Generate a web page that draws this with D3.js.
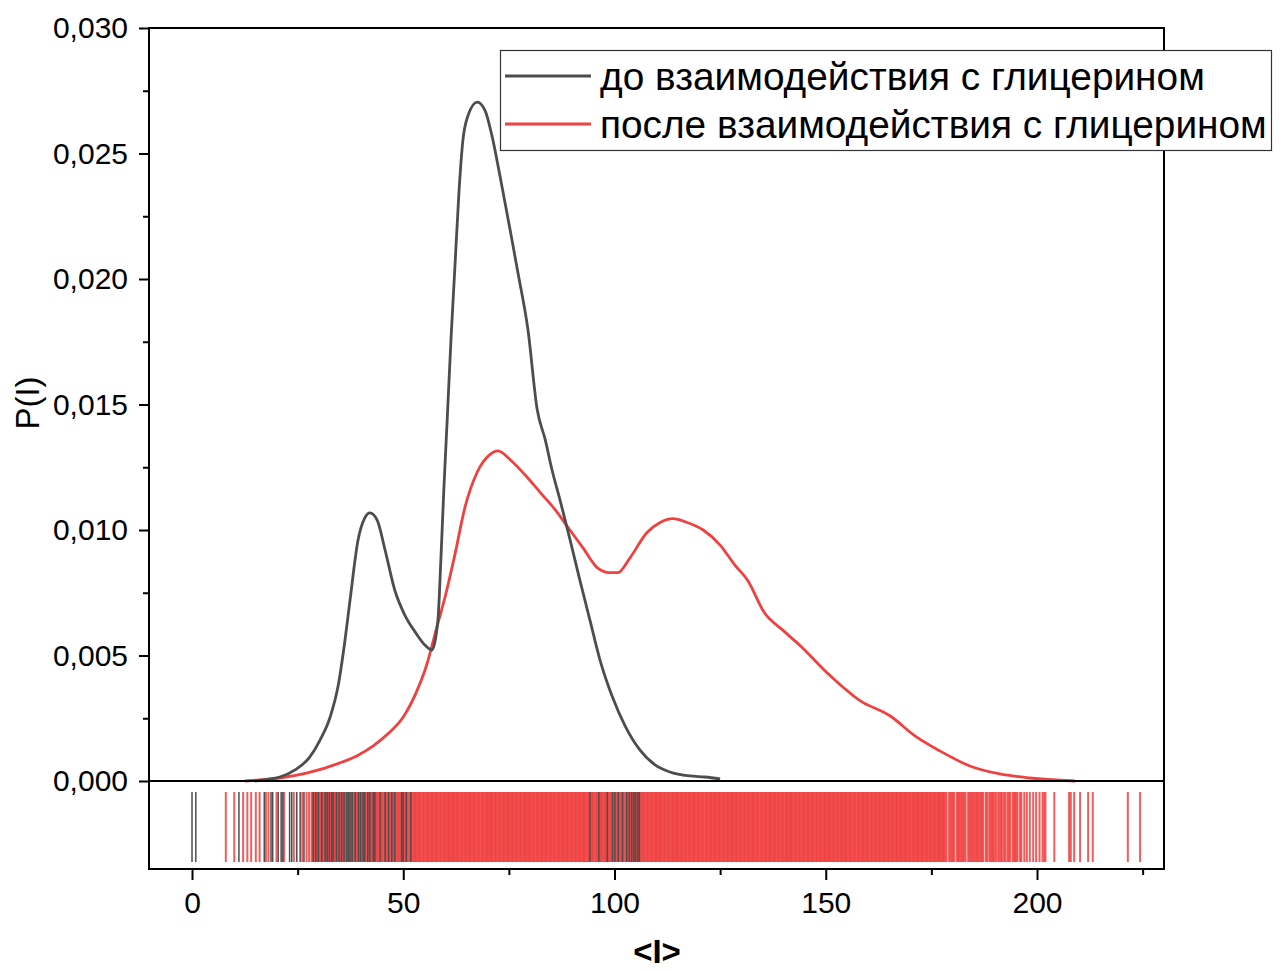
<!DOCTYPE html>
<html><head><meta charset="utf-8">
<script src="https://cdn.jsdelivr.net/npm/d3@7"></script>
<style>body{margin:0;background:#fff}svg{display:block}text{font-family:"Liberation Sans",Arial,sans-serif;fill:#000}</style>
</head><body><svg id="c" width="1285" height="971"></svg>
<script>
// ---- data (P values in units of 1e-3) ----
const seriesNames = ["до взаимодействия с глицерином", "после взаимодействия с глицерином"];
const beforeX = [14.9,18.5,20.8,24.4,27.9,30.3,32.7,34.6,36.2,37.4,39.3,40.9,42.1,43.8,45.7,48.0,50.4,52.8,55.1,56.8,58.2,58.9,59.6,60.4,61.3,62.2,63.2,64.1,65.3,67.5,69.4,71.0,72.9,75.3,77.2,79.5,81.7,83.6,85.2,87.1,89.5,91.8,94.2,96.6,99.4,102.5,106.0,109.6,113.1,117.9,121.4,125.0];
const beforeY = [0,0.08,0.16,0.44,0.96,1.63,2.55,3.8,5.6,7.2,9.6,10.48,10.68,10.4,9.2,7.6,6.6,5.94,5.42,5.22,6.4,8.8,11.6,14.4,17.6,20.4,23.5,25.5,26.5,27.05,26.7,25.7,24.1,21.95,20.2,18.0,14.8,13.6,12.4,11.2,9.6,8.0,6.4,4.8,3.4,2.2,1.24,0.64,0.36,0.2,0.16,0.08];
const afterX = [12.5,16.0,20.8,27.1,35.0,39.0,42.9,46.5,50.0,53.0,55.5,57.9,60.0,62.2,64.6,67.5,70.5,72.4,75.3,78.8,82.4,86.0,89.0,92.5,95.9,98.9,100.8,103.7,107.7,110.8,113.8,117.2,121.0,125.0,128.5,131.5,135.5,139.9,143.9,151.0,158.1,165.2,171.1,177.0,184.1,191.2,198.3,209.0];
const afterY = [0,0.04,0.12,0.31,0.72,1.0,1.4,1.9,2.55,3.5,4.6,6.1,7.4,9.0,10.9,12.3,13.0,13.15,12.8,12.2,11.5,10.8,10.1,9.3,8.5,8.3,8.3,8.9,9.9,10.3,10.45,10.3,10.0,9.4,8.6,8.0,6.7,6.0,5.4,4.2,3.2,2.6,1.8,1.2,0.6,0.28,0.12,0];
const beforeRug = [0,0.9,11.1,17.1,18.7,19.1,20.4,21.1,21.5,23.1,23.6,24.8,25.6,26.5,28.7,29.3,29.9,30.7,31.5,32.0,32.5,33.1,33.4,34.2,34.8,35.4,36.0,36.6,37.0,37.4,37.9,38.6,39.4,39.9,40.5,40.9,41.6,42.1,42.9,43.3,44.5,45.7,46.5,47.3,48.0,49.6,50.0,50.7,51.8,94.2,96.3,98.3,99.5,100.1,100.9,101.9,102.9,103.5,104.1,104.6,105.0,105.5,105.9];
const afterRug = [8.0,10.0,12.1,13.1,14.0,15.1,16.0,17.5,18.1,20.0,21.8,24.1,26.1,27.1,27.7,28.3,28.6,28.8,
29,29.3,29.6,29.8,30,30.3,30.6,30.8,31,31.3,31.6,31.8,32,32.3,32.6,32.8,33,33.3,33.6,33.8,34,34.3,34.6,34.8,35,35.3,35.6,35.8,36,36.3,36.6,36.8,37,37.3,37.6,37.8,38,38.3,38.6,38.8,
39,39.3,39.6,39.8,40,40.3,40.6,40.8,41,41.3,41.6,41.8,42,42.3,42.6,42.8,43,43.3,43.6,43.8,44,44.3,44.6,44.8,45,45.3,45.6,45.8,46,46.3,46.6,46.8,47,47.3,47.6,47.8,48,48.3,48.6,48.8,
49,49.3,49.6,49.8,50,50.3,50.6,50.8,51,51.3,51.6,51.8,52,52.3,52.6,52.8,53,53.3,53.6,53.8,54,54.3,54.6,54.8,55,55.3,55.6,55.8,56,56.3,56.6,56.8,57,57.3,57.6,57.8,58,58.3,58.6,58.8,
59,59.3,59.6,59.8,60,60.3,60.6,60.8,61,61.3,61.6,61.8,62,62.3,62.6,62.8,63,63.3,63.6,63.8,64,64.3,64.6,64.8,65,65.3,65.6,65.8,66,66.3,66.6,66.8,67,67.3,67.6,67.8,68,68.3,68.6,68.8,
69,69.3,69.6,69.8,70,70.3,70.6,70.8,71,71.3,71.6,71.8,72,72.3,72.6,72.8,73,73.3,73.6,73.8,74,74.3,74.6,74.8,75,75.3,75.6,75.8,76,76.3,76.6,76.8,77,77.3,77.6,77.8,78,78.3,78.6,78.8,
79,79.3,79.6,79.8,80,80.3,80.6,80.8,81,81.3,81.6,81.8,82,82.3,82.6,82.8,83,83.3,83.6,83.8,84,84.3,84.6,84.8,85,85.3,85.6,85.8,86,86.3,86.6,86.8,87,87.3,87.6,87.8,88,88.3,88.6,88.8,
89,89.3,89.6,89.8,90,90.3,90.6,90.8,91,91.3,91.6,91.8,92,92.3,92.6,92.8,93,93.3,93.6,93.8,94,94.3,94.6,94.8,95,95.3,95.6,95.8,96,96.3,96.6,96.8,97,97.3,97.6,97.8,98,98.3,98.6,98.8,
99,99.3,99.6,99.8,100,100.3,100.6,100.8,101,101.3,101.6,101.8,102,102.3,102.6,102.8,103,103.3,103.6,103.8,104,104.3,104.6,104.8,105,105.3,105.6,105.8,106,106.3,106.6,106.8,107,107.3,107.6,107.8,108,108.3,108.6,108.8,
109,109.3,109.6,109.8,110,110.3,110.6,110.8,111,111.3,111.6,111.8,112,112.3,112.6,112.8,113,113.3,113.6,113.8,114,114.3,114.6,114.8,115,115.3,115.6,115.8,116,116.3,116.6,116.8,117,117.3,117.6,117.8,118,118.3,118.6,118.8,
119,119.3,119.6,119.8,120,120.3,120.6,120.8,121,121.3,121.6,121.8,122,122.3,122.6,122.8,123,123.3,123.6,123.8,124,124.3,124.6,124.8,125,125.3,125.6,125.8,126,126.3,126.6,126.8,127,127.3,127.6,127.8,128,128.3,128.6,128.8,
129,129.3,129.6,129.8,130,130.3,130.6,130.8,131,131.3,131.6,131.8,132,132.3,132.6,132.8,133,133.3,133.6,133.8,134,134.3,134.6,134.8,135,135.3,135.6,135.8,136,136.3,136.6,136.8,137,137.3,137.6,137.8,138,138.3,138.6,138.8,
139,139.3,139.6,139.8,140,140.3,140.6,140.8,141,141.3,141.6,141.8,142,142.3,142.6,142.8,143,143.3,143.6,143.8,144,144.3,144.6,144.8,145,145.3,145.6,145.8,146,146.3,146.6,146.8,147,147.3,147.6,147.8,148,148.3,148.6,148.8,
149,149.3,149.6,149.8,150,150.3,150.6,150.8,151,151.3,151.6,151.8,152,152.3,152.6,152.8,153,153.3,153.6,153.8,154,154.3,154.6,154.8,155,155.3,155.6,155.8,156,156.3,156.6,156.8,157,157.3,157.6,157.8,158,158.3,158.6,158.8,
159,159.3,159.6,159.8,160,160.3,160.6,160.8,161,161.3,161.6,161.8,162,162.3,162.6,162.8,163,163.3,163.6,163.8,164,164.3,164.6,164.8,165,165.3,165.6,165.8,166,166.3,166.6,166.8,167,167.3,167.6,167.8,168,168.3,168.6,168.8,
169,169.3,169.6,169.8,170,170.3,170.6,170.8,171,171.3,171.6,171.8,172,172.3,172.6,172.8,173,173.3,173.6,173.8,174,174.3,174.6,174.8,175,175.3,175.6,175.8,176,176.3,176.6,176.8,177,177.3,177.6,177.8,178,178.3,178.6,
179.2,179.5,179.8,180.1,180.4,181.0,181.3,181.6,181.9,182.2,182.5,182.8,183.1,183.7,184.0,184.3,184.6,184.9,185.2,185.5,185.8,186.1,186.4,186.7,187.0,187.3,187.9,188.2,188.7,189.0,189.3,189.6,189.9,190.3,190.8,191.1,191.5,191.7,192.2,192.5,193.0,193.3,193.6,194.2,194.5,194.8,195.1,195.4,196.0,196.3,197.0,197.6,198.3,199.1,199.8,200.6,201.3,201.7,202.0,204.1,207.6,208.0,208.8,210.2,212.1,213.2,221.5,224.4];
const xTicks = [0,50,100,150,200];
const xMinorTicks = [25,75,125,175,225];
const yTicks = [0,0.005,0.010,0.015,0.020,0.025,0.030];
const yMinorTicks = [0.0025,0.0075,0.0125,0.0175,0.0225,0.0275];

// ---- layout ----
const svg = d3.select("#c");
const L = 149, R = 1164, T = 28, B = 869, Y0 = 781;
const x = d3.scaleLinear().domain([-10.18, 230.06]).range([L, R]);
const y = d3.scaleLinear().domain([0, 0.030]).range([Y0, T]);
const colBefore = "#4d4d4d", colAfter = "#f04040";

// rug
const rugG = svg.append("g");
rugG.selectAll("line.a").data(afterRug).join("line").attr("class","a")
  .attr("x1", d => x(d)).attr("x2", d => x(d)).attr("y1", 792).attr("y2", 862)
  .attr("stroke", colAfter).attr("stroke-width", 2).attr("stroke-opacity", 0.85);
rugG.selectAll("line.b").data(beforeRug).join("line").attr("class","b")
  .attr("x1", d => x(d)).attr("x2", d => x(d)).attr("y1", 792).attr("y2", 862)
  .attr("stroke", colBefore).attr("stroke-width", 1.5);

// curves
const line = d3.line().x(d => x(d[0])).y(d => y(d[1] / 1000)).curve(d3.curveMonotoneX);
svg.append("path").datum(afterX.map((v, i) => [v, afterY[i]])).attr("d", line)
  .attr("fill", "none").attr("stroke", colAfter).attr("stroke-width", 2.8);
svg.append("path").datum(beforeX.map((v, i) => [v, beforeY[i]])).attr("d", line)
  .attr("fill", "none").attr("stroke", colBefore).attr("stroke-width", 2.8);

// frame
const fr = svg.append("g").attr("stroke", "#000").attr("stroke-width", 2).attr("fill", "none");
fr.append("rect").attr("x", L).attr("y", T).attr("width", R - L).attr("height", B - T);
fr.append("line").attr("x1", L).attr("x2", R).attr("y1", Y0).attr("y2", Y0);

// axes
const fmt = d => d3.format(".3f")(d).replace(".", ",");
const yAx = svg.append("g").attr("transform", `translate(${L},0)`)
  .call(d3.axisLeft(y).tickValues(yTicks).tickFormat(fmt).tickSize(10).tickPadding(11));
const yAxM = svg.append("g").attr("transform", `translate(${L},0)`)
  .call(d3.axisLeft(y).tickValues(yMinorTicks).tickFormat("").tickSize(6));
const xAx = svg.append("g").attr("transform", `translate(0,${B})`)
  .call(d3.axisBottom(x).tickValues(xTicks).tickFormat(d3.format("d")).tickSize(11).tickPadding(12));
const xAxM = svg.append("g").attr("transform", `translate(0,${B})`)
  .call(d3.axisBottom(x).tickValues(xMinorTicks).tickFormat("").tickSize(6));
[yAx, yAxM, xAx, xAxM].forEach(g => {
  g.select(".domain").remove();
  g.selectAll(".tick line").attr("stroke", "#000").attr("stroke-width", 2);
  g.selectAll("text").attr("font-size", 30).attr("font-family", "'Liberation Sans',Arial,sans-serif").attr("fill", "#000");
});

// axis titles
svg.append("text").attr("transform", "translate(39,403) rotate(-90)").attr("text-anchor", "middle")
  .attr("font-size", 33).text("P(I)");
svg.append("text").attr("x", 657).attr("y", 963).attr("text-anchor", "middle")
  .attr("font-size", 33).attr("font-weight", "bold").text("<I>");

// legend
const lg = svg.append("g");
lg.append("rect").attr("x", 500.5).attr("y", 50.5).attr("width", 771).attr("height", 100)
  .attr("fill", "#fff").attr("stroke", "#333").attr("stroke-width", 1.2);
[colBefore, colAfter].forEach((c, i) => {
  const yy = 76 + i * 48;
  lg.append("line").attr("x1", 505).attr("x2", 591).attr("y1", yy).attr("y2", yy)
    .attr("stroke", c).attr("stroke-width", 3);
  lg.append("text").attr("x", 600).attr("y", yy + 14).attr("font-size", 38.8).text(seriesNames[i]);
});
</script></body></html>
